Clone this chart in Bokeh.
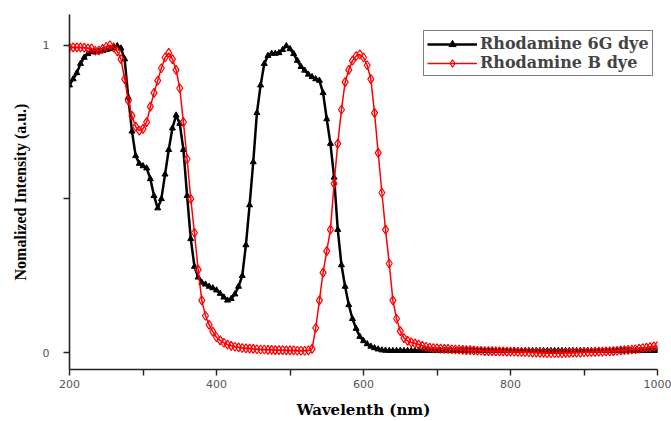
from bokeh.plotting import figure
from bokeh.models import FixedTicker, Legend, LegendItem, ColumnDataSource
from bokeh.embed import file_html
from bokeh.resources import INLINE

wavelength = list(range(200, 1005, 5))

rhodamine_6g = [
    0.87, 0.89, 0.91, 0.94, 0.96, 0.972, 0.978, 0.978, 0.98, 0.982,
    0.985, 0.988, 0.992, 0.998, 0.99, 0.955, 0.83, 0.72, 0.64, 0.615,
    0.607, 0.6, 0.565, 0.51, 0.47, 0.5, 0.58, 0.66, 0.73, 0.772,
    0.745, 0.66, 0.51, 0.37, 0.28, 0.245, 0.228, 0.222, 0.215, 0.21,
    0.203, 0.192, 0.18, 0.17, 0.175, 0.19, 0.215, 0.25, 0.35, 0.48,
    0.62, 0.78, 0.87, 0.94, 0.966, 0.973, 0.973, 0.975, 0.985, 0.998,
    0.988, 0.972, 0.95, 0.93, 0.918, 0.905, 0.897, 0.89, 0.885, 0.845,
    0.76, 0.68, 0.57, 0.4, 0.285, 0.215, 0.155, 0.11, 0.078, 0.052,
    0.038, 0.028, 0.02, 0.015, 0.011, 0.008, 0.007, 0.006, 0.006, 0.006,
    0.006, 0.006, 0.006, 0.006, 0.006, 0.006, 0.006, 0.006, 0.006, 0.006,
    0.006, 0.006, 0.006, 0.006, 0.006, 0.006, 0.006, 0.006, 0.006, 0.006,
    0.006, 0.006, 0.006, 0.006, 0.006, 0.006, 0.006, 0.006, 0.006, 0.006,
    0.006, 0.006, 0.006, 0.006, 0.006, 0.006, 0.006, 0.006, 0.006, 0.006,
    0.006, 0.006, 0.006, 0.006, 0.006, 0.006, 0.006, 0.006, 0.006, 0.006,
    0.006, 0.006, 0.006, 0.006, 0.006, 0.006, 0.006, 0.006, 0.006, 0.006,
    0.006, 0.006, 0.006, 0.006, 0.006, 0.006, 0.006, 0.006, 0.006, 0.006,
    0.006,
]

rhodamine_b = [
    0.993, 0.993, 0.993, 0.993, 0.992, 0.99, 0.99, 0.982, 0.983, 0.988,
    0.995, 1.0, 0.993, 0.98, 0.955, 0.89, 0.82, 0.77, 0.735, 0.722,
    0.728, 0.75, 0.8, 0.845, 0.885, 0.925, 0.96, 0.975, 0.955, 0.92,
    0.86, 0.75, 0.63, 0.5, 0.39, 0.27, 0.17, 0.12, 0.09, 0.068,
    0.05, 0.04, 0.032, 0.026, 0.022, 0.019, 0.017, 0.015, 0.014, 0.013,
    0.012, 0.011, 0.01, 0.01, 0.009, 0.009, 0.008, 0.008, 0.008, 0.007,
    0.007, 0.007, 0.006, 0.006, 0.006, 0.007, 0.012, 0.08, 0.17, 0.26,
    0.33, 0.4, 0.55, 0.68, 0.79, 0.88, 0.92, 0.95, 0.965, 0.97,
    0.96, 0.935, 0.89, 0.78, 0.65, 0.52, 0.4, 0.29, 0.17, 0.11,
    0.07, 0.047, 0.038, 0.033, 0.03, 0.026, 0.022, 0.019, 0.016, 0.015,
    0.014, 0.013, 0.012, 0.012, 0.011, 0.01, 0.01, 0.009, 0.008, 0.008,
    0.007, 0.006, 0.006, 0.005, 0.005, 0.005, 0.004, 0.004, 0.004, 0.003,
    0.003, 0.003, 0.002, 0.002, 0.001, 0.001, 0.0, 0.0, -0.001, -0.001,
    -0.002, -0.002, -0.002, -0.002, -0.002, -0.001, -0.001, 0.0, 0.0, 0.0,
    0.001, 0.001, 0.002, 0.002, 0.003, 0.003, 0.004, 0.004, 0.005, 0.006,
    0.007, 0.008, 0.009, 0.01, 0.011, 0.013, 0.015, 0.016, 0.018, 0.02,
    0.022,
]

series_labels = ["Rhodamine 6G dye", "Rhodamine B dye"]
x_ticks = [200, 400, 600, 800, 1000]
x_minor_ticks = [300, 500, 700, 900]
y_ticks = [0, 0.5, 1]
y_tick_labels = {0: "0", 0.5: "", 1: "1"}

src = ColumnDataSource(dict(x=wavelength, b6g=rhodamine_6g, rb=rhodamine_b))

p = figure(width=671, height=421, x_range=(200, 1000), y_range=(-0.055, 1.1),
           output_backend="svg", toolbar_location=None,
           min_border_left=69, min_border_right=14, min_border_top=14, min_border_bottom=49)
p.outline_line_color = None
p.xgrid.visible = False
p.ygrid.visible = False
p.background_fill_color = "white"

l1 = p.line("x", "b6g", source=src, color="black", line_width=2.5)
s1 = p.scatter("x", "b6g", source=src, marker="triangle", size=6, color="black")
l2 = p.line("x", "rb", source=src, color="#ff0000", line_width=1.5)
s2 = p.scatter("x", "rb", source=src, marker="diamond", size=9, line_color="#ff0000",
               fill_color=None, line_width=1.2)

for ax in (p.xaxis[0], p.yaxis[0]):
    ax.axis_line_width = 1.6
    ax.axis_line_color = "#222222"
    ax.major_tick_line_color = "#222222"
    ax.minor_tick_line_color = "#222222"
    ax.major_tick_line_width = 1.4
    ax.minor_tick_line_width = 1.4
    ax.major_tick_in = 0
    ax.major_tick_out = 6
    ax.minor_tick_in = 0
    ax.minor_tick_out = 6
    ax.major_label_text_font = "DejaVu Sans"
    ax.major_label_text_font_size = "11px"
    ax.major_label_text_color = "#555555"
    ax.axis_label_text_font_style = "bold"
    ax.axis_label_text_color = "black"

p.xaxis.ticker = FixedTicker(ticks=x_ticks, minor_ticks=x_minor_ticks)
p.yaxis.ticker = FixedTicker(ticks=y_ticks, minor_ticks=[])
p.yaxis.major_label_overrides = y_tick_labels
p.xaxis.major_label_standoff = 4
p.yaxis.major_label_standoff = 14

p.xaxis.axis_label = "Wavelenth (nm)"
p.xaxis.axis_label_text_font = "DejaVu Serif"
p.xaxis.axis_label_text_font_size = "15px"
p.xaxis.axis_label_standoff = 10

p.yaxis.axis_label = "Nomalized Intensity (a.u.)"
p.yaxis.axis_label_text_font = "Liberation Serif"
p.yaxis.axis_label_text_font_size = "16px"
p.yaxis.axis_label_standoff = 11

legend = Legend(items=[LegendItem(label=series_labels[0], renderers=[l1, s1]),
                       LegendItem(label=series_labels[1], renderers=[l2, s2])],
                location=(354, 293))
legend.label_text_font = "DejaVu Serif"
legend.label_text_font_style = "bold"
legend.label_text_font_size = "16px"
legend.label_height = 18
legend.glyph_height = 18
legend.glyph_width = 50
legend.label_standoff = 3
legend.spacing = 0
legend.padding = 3
legend.margin = 0
legend.border_line_color = "black"
legend.border_line_width = 1.5
legend.background_fill_color = "white"
legend.background_fill_alpha = 1
p.add_layout(legend)

open("out.html", "w").write(file_html(p, INLINE))
